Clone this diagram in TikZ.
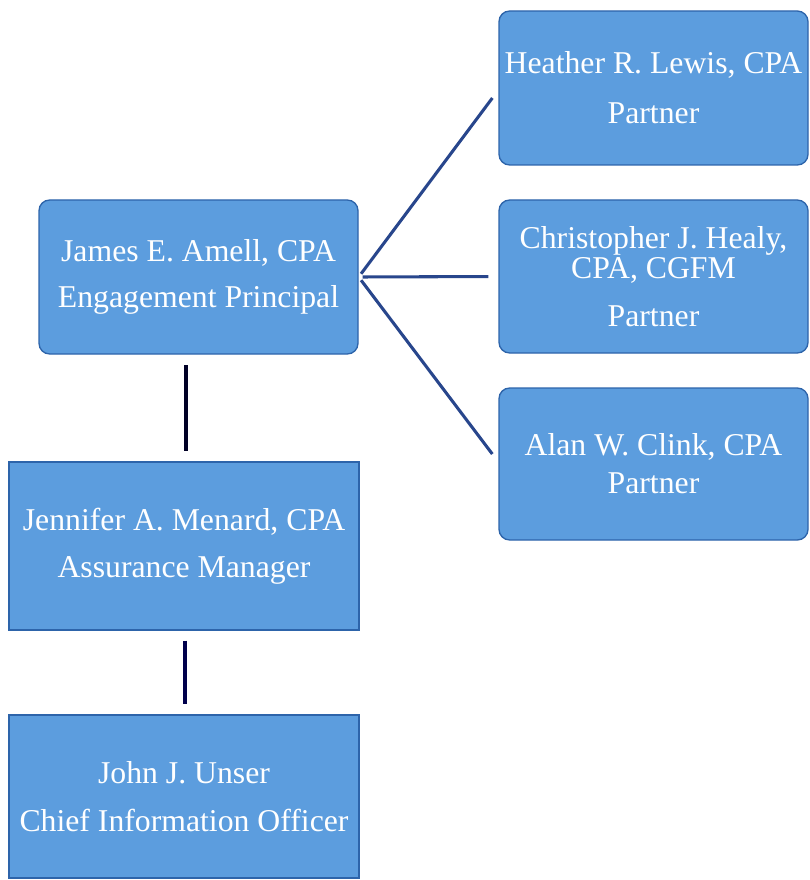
\documentclass[tikz,border=0pt]{standalone}
\usepackage{fontspec}
\setmainfont{Liberation Serif}
\usetikzlibrary{positioning}
\definecolor{boxblue}{RGB}{92,157,222}
\definecolor{edgeblue}{RGB}{45,100,170}
\definecolor{linkblue}{RGB}{40,70,140}

\begin{document}
\begin{tikzpicture}[x=0.75pt, y=-0.75pt,
    every node/.style={align=center, inner sep=0pt, text=white, font=\fontsize{23.8}{30}\selectfont},
    person/.style={draw=edgeblue, line width=1pt, fill=boxblue, rounded corners=8pt, minimum width=231.75pt},
    staff/.style={draw=edgeblue, line width=1pt, fill=boxblue, minimum width=262.5pt}]

    \useasboundingbox (0,0) rectangle (809,880);

    % Nodes left column
    \node[person, minimum width=239.25pt, minimum height=115.5pt] (amell) at (198.5,277) {James E. Amell, CPA\\[4pt] Engagement Principal};
    \node[staff, minimum height=126pt] (menard) at (184,546) {Jennifer A. Menard, CPA\\[5pt] Assurance Manager};
    \node[staff, minimum height=122.25pt] (unser) at (184,796.5) {John J. Unser\\[6pt] Chief Information Officer};

    % Nodes right column
    \node[person, minimum height=115.5pt] (lewis) at (653.5,88) {Heather R. Lewis, CPA\\[7.5pt] Partner};
    \node[person, minimum height=114.75pt] (healy) at (653.5,276.5) {Christopher J. Healy,\\[-7pt] CPA, CGFM\\[6pt] Partner};
    \node[person, minimum height=114pt] (clink) at (653.5,464) {Alan W. Clink, CPA\\[-1.5pt] Partner};

    % Lines left column
    \draw[line width=2.6pt, black!85!blue, shorten <=8pt, shorten >=7.5pt] (amell.south -| 186,0) -- (menard.north -| 186,0);
    \draw[line width=2.6pt, black!70!blue, shorten <=7.5pt, shorten >=7.5pt] (menard.south -| 185,0) -- (unser.north -| 185,0);

    % Lines to partners
    \draw[line width=2.3pt, linkblue, shorten <=3pt, shorten >=7.5pt] (amell.east) -- (lewis.west |- 0,90);
    \draw[line width=2.3pt, linkblue, shorten <=3pt, shorten >=7.5pt] (amell.east) -- (healy.west);
    \draw[line width=2.3pt, linkblue, shorten <=3pt, shorten >=7.5pt] (amell.east) -- (clink.west |- 0,462);
\end{tikzpicture}
\end{document}
